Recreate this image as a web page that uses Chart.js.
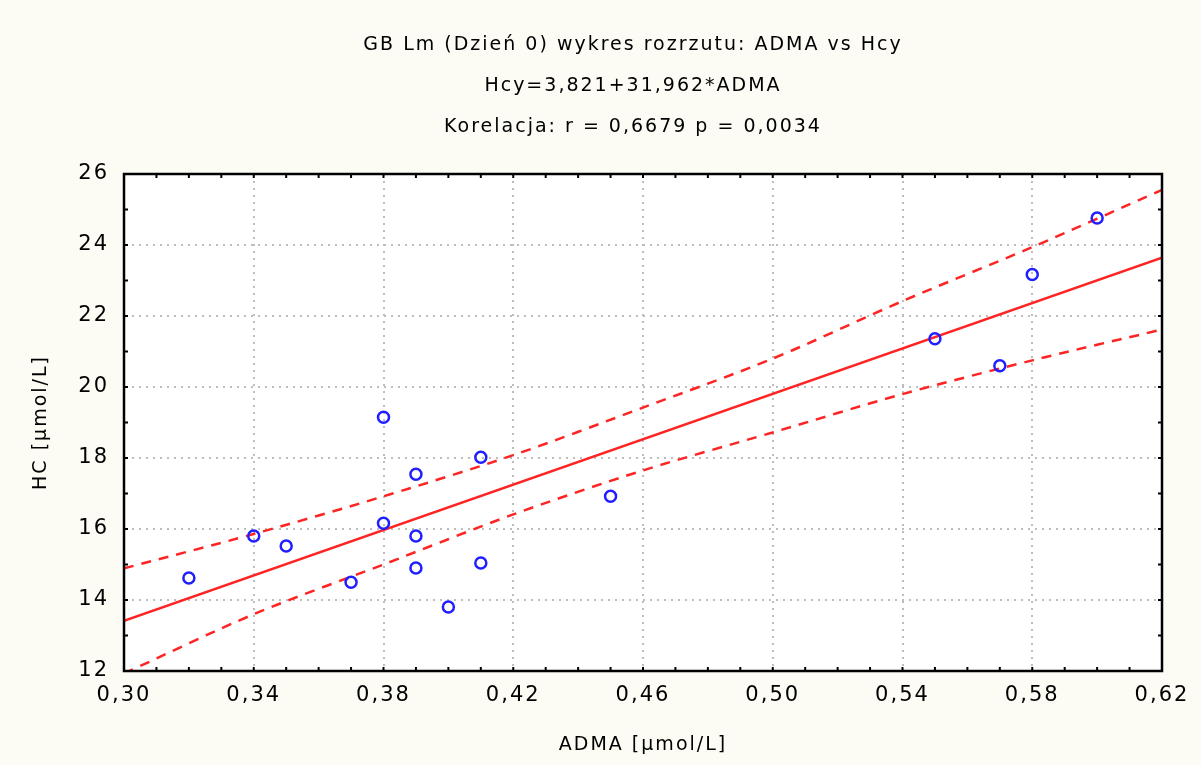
<!DOCTYPE html>
<html lang="pl">
  <head>
    <meta charset="UTF-8" />
    <title>ADMA vs Hcy</title>
    <script src="https://cdn.jsdelivr.net/npm/chart.js"></script>
    <style>
      body {
        margin: 0;
        background: #fcfcf5;
      }
      #scatter {
        display: block;
      }
    </style>
  </head>
  <body>
    <canvas id="scatter" width="1201" height="765"></canvas>
    <script>
      // title lines
      const titleLines = [
        "GB Lm (Dzień 0) wykres rozrzutu: ADMA vs Hcy",
        "Hcy=3,821+31,962*ADMA",
        "Korelacja: r = 0,6679 p = 0,0034",
      ];

      // observations (ADMA, Hcy)
      const admaValues = [0.32, 0.34, 0.35, 0.37, 0.38, 0.38, 0.39, 0.39, 0.39, 0.4, 0.41, 0.41, 0.45, 0.55, 0.57, 0.58, 0.6];
      const hcyValues = [14.62, 15.8, 15.52, 14.5, 19.15, 16.16, 17.54, 15.8, 14.9, 13.8, 18.02, 15.04, 16.92, 21.36, 20.6, 23.17, 24.76];

      // fitted line end points
      const fitX = [0.3, 0.62];
      const fitY = [13.41, 23.64];

      // 95% confidence band
      const bandX = [0.3, 0.34, 0.38, 0.42, 0.46, 0.5, 0.54, 0.58, 0.62];
      const bandUpper = [14.89, 15.86, 16.92, 18.08, 19.42, 20.8, 22.42, 23.94, 25.55];
      const bandLower = [11.93, 13.6, 15.0, 16.41, 17.65, 18.72, 19.8, 20.75, 21.62];

      const toPoints = (xs, ys) => xs.map((x, i) => ({ x: x, y: ys[i] }));
      const comma = (v, d) => v.toFixed(d).replace(".", ",");

      const frame = {
        id: "frame",
        beforeDraw(chart) {
          const { ctx, chartArea: a } = chart;
          ctx.save();
          ctx.fillStyle = "#fcfcf5";
          ctx.fillRect(0, 0, chart.width, chart.height);
          ctx.fillStyle = "#ffffff";
          ctx.fillRect(a.left, a.top, a.right - a.left, a.bottom - a.top);
          ctx.restore();
          ctx.letterSpacing = "2px";
        },
        afterDraw(chart) {
          const { ctx, chartArea: a, scales } = chart;
          ctx.save();
          // small inward ticks on all four sides
          ctx.strokeStyle = "#000";
          ctx.lineWidth = 2;
          ctx.beginPath();
          for (let i = 31; i < 62; i++) {
            const px = scales.x.getPixelForValue(i / 100);
            ctx.moveTo(px, a.top);
            ctx.lineTo(px, a.top + 4);
            ctx.moveTo(px, a.bottom);
            ctx.lineTo(px, a.bottom - 4);
          }
          for (let v = 13; v < 26; v++) {
            const py = scales.y.getPixelForValue(v);
            ctx.moveTo(a.left, py);
            ctx.lineTo(a.left + 4, py);
            ctx.moveTo(a.right, py);
            ctx.lineTo(a.right - 4, py);
          }
          ctx.stroke();
          ctx.lineWidth = 2.5;
          ctx.strokeRect(a.left, a.top, a.right - a.left, a.bottom - a.top);

          // title
          ctx.fillStyle = "#000";
          ctx.font = '19px "DejaVu Sans"';
          ctx.textAlign = "center";
          ctx.textBaseline = "middle";
          titleLines.forEach((line, i) => ctx.fillText(line, 633, 45 + i * 41));
          ctx.restore();
        },
      };

      new Chart(document.getElementById("scatter"), {
        type: "scatter",
        data: {
          datasets: [
            {
              label: "Hcy",
              data: toPoints(admaValues, hcyValues),
              pointStyle: "circle",
              pointRadius: 5.5,
              pointBorderWidth: 2.5,
              borderColor: "#1f1fff",
              backgroundColor: "rgba(255,255,255,0)",
              order: 0,
            },
            {
              label: "fit",
              data: toPoints(fitX, fitY),
              showLine: true,
              pointRadius: 0,
              borderColor: "#ff2424",
              borderWidth: 2.5,
              order: 1,
            },
            {
              label: "upper",
              data: toPoints(bandX, bandUpper),
              showLine: true,
              tension: 0.3,
              pointRadius: 0,
              borderColor: "#ff2424",
              borderWidth: 2.5,
              borderDash: [10, 8],
              order: 1,
            },
            {
              label: "lower",
              data: toPoints(bandX, bandLower),
              showLine: true,
              tension: 0.3,
              pointRadius: 0,
              borderColor: "#ff2424",
              borderWidth: 2.5,
              borderDash: [10, 8],
              order: 1,
            },
          ],
        },
        options: {
          responsive: false,
          animation: false,
          layout: { padding: { top: 174, left: 0, right: 39, bottom: 0 } },
          plugins: {
            legend: { display: false },
            tooltip: { enabled: false },
          },
          scales: {
            x: {
              type: "linear",
              min: 0.3,
              max: 0.62,
              afterFit: (s) => {
                s.height = 94;
              },
              ticks: {
                stepSize: 0.04,
                padding: 12,
                color: "#000",
                font: { family: "DejaVu Sans", size: 21 },
                callback: (v) => comma(v, 2),
              },
              grid: { drawTicks: false, color: "#bdbdbd", lineWidth: 2 },
              border: { display: true, color: "#000", width: 2, dash: [2, 5] },
              title: {
                display: true,
                text: "ADMA [µmol/L]",
                color: "#000",
                font: { family: "DejaVu Sans", size: 19 },
                padding: { top: 0, bottom: 9 },
              },
            },
            y: {
              min: 12,
              max: 26,
              afterFit: (s) => {
                s.width = 124;
              },
              ticks: {
                stepSize: 2,
                padding: 15,
                color: "#000",
                font: { family: "DejaVu Sans", size: 21 },
              },
              grid: { drawTicks: false, color: "#bdbdbd", lineWidth: 2 },
              border: { display: true, color: "#000", width: 2, dash: [2, 5] },
              title: {
                display: true,
                text: "HC [µmol/L]",
                color: "#000",
                font: { family: "DejaVu Sans", size: 19 },
                padding: { top: 30, bottom: 0 },
              },
            },
          },
        },
        plugins: [frame],
      });
    </script>
  </body>
</html>
